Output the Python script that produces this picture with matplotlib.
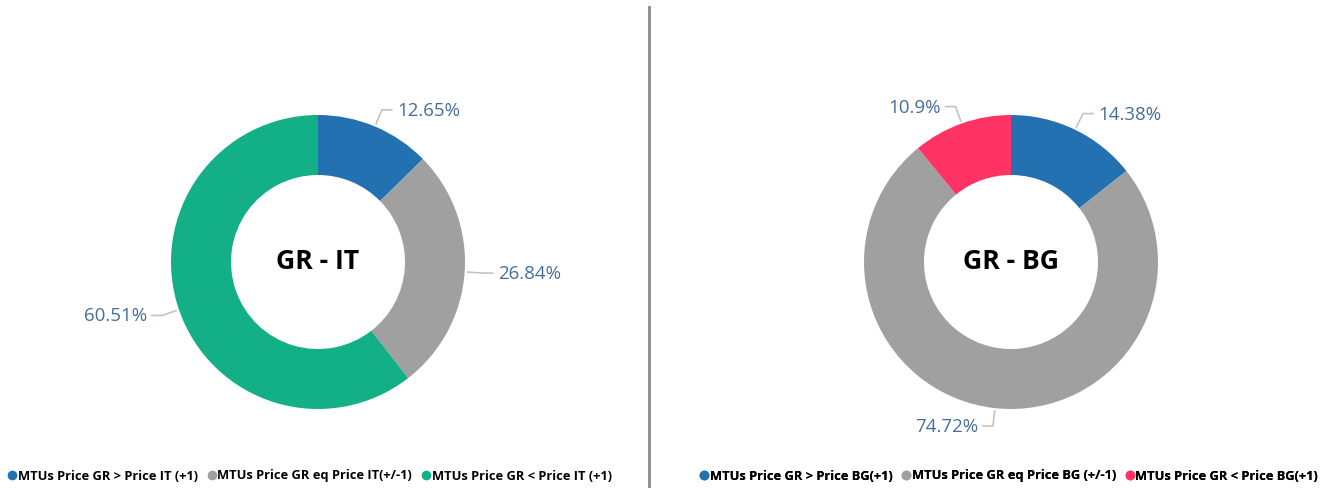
import numpy as np
import matplotlib.pyplot as plt
from matplotlib.lines import Line2D

# ---- data ----
titles = ["GR - IT", "GR - BG"]
labels_it = ["MTUs Price GR > Price IT (+1)", "MTUs Price GR eq Price IT(+/-1)", "MTUs Price GR < Price IT (+1)"]
values_it = [12.65, 26.84, 60.51]
labels_bg = ["MTUs Price GR > Price BG(+1)", "MTUs Price GR eq Price BG (+/-1)", "MTUs Price GR < Price BG(+1)"]
values_bg = [14.38, 74.72, 10.90]
pct_text_it = ["12.65%", "26.84%", "60.51%"]
pct_text_bg = ["14.38%", "74.72%", "10.9%"]

colors_it = ["#2471b1", "#a0a0a0", "#13b088"]
colors_bg = ["#2471b1", "#a0a0a0", "#ff3363"]

W, H = 1332, 488
fig = plt.figure(figsize=(W / 100, H / 100), dpi=100)
ax = fig.add_axes([0, 0, 1, 1])
ax.set_xlim(0, W)
ax.set_ylim(0, H)
ax.set_aspect("equal")
ax.axis("off")

label_color = "#466f9d"
leader_color = "#c4c4c4"
R = 147
WIDTH = 60


def donut(center, values, colors, pct_texts, title, legend_labels, legend_x):
    cx, cy = center
    ax.pie(values, colors=colors, center=center, radius=R, startangle=90,
           counterclock=False, wedgeprops=dict(width=WIDTH, linewidth=0),
           frame=True)
    total = sum(values)
    cum = 0
    for v, t in zip(values, pct_texts):
        mid = 90 - (cum + v / 2) / total * 360
        cum += v
        a = np.deg2rad(mid)
        p0 = (cx + (R + 3) * np.cos(a), cy + (R + 3) * np.sin(a))
        p1 = (cx + (R + 18) * np.cos(a), cy + (R + 18) * np.sin(a))
        s = 1 if np.cos(a) >= 0 else -1
        p2 = (p1[0] + 10 * s, p1[1])
        ax.plot([p0[0], p1[0], p2[0]], [p0[1], p1[1], p2[1]], color=leader_color, lw=1.2)
        ax.text(p2[0] + 5 * s, p2[1] - 1, t, ha="left" if s > 0 else "right", va="center",
                color=label_color, fontsize=13.5, family="Open Sans")
    ax.text(cx, cy, title, ha="center", va="center", fontsize=19.2,
            fontweight="bold", family="Open Sans", color="black")
    handles = [Line2D([], [], marker="o", linestyle="", markersize=7,
                      markerfacecolor=c, markeredgewidth=0) for c in colors]
    leg = ax.legend(handles, legend_labels, ncol=3, loc="center",
                    bbox_to_anchor=(legend_x / W, 12 / H), frameon=False,
                    handletextpad=0.0, columnspacing=0.6, handlelength=0.9,
                    prop=dict(family="Open Sans", weight="bold", size=9.3))
    ax.add_artist(leg)


donut((318, H - 262), values_it, colors_it, pct_text_it, titles[0], labels_it, 309)
donut((1011, H - 262), values_bg, colors_bg, pct_text_bg, titles[1], labels_bg, 1008)

ax.set_xlim(0, W)
ax.set_ylim(0, H)
ax.axis("off")

# vertical separator
ax.plot([649, 649], [0, H - 7], color="#8a8a8a", lw=2)

fig.savefig("out.png", dpi=100)
